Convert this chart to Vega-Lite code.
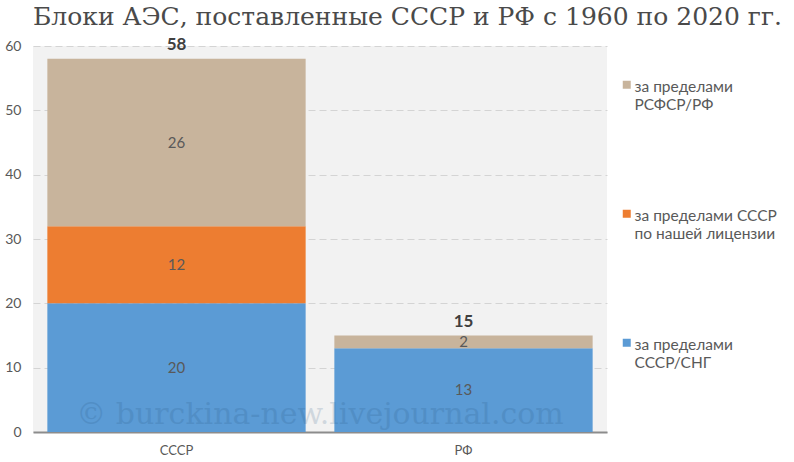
{
  "$schema": "https://vega.github.io/schema/vega-lite/v6.json",
  "autosize": "none",
  "width": 574,
  "height": 386,
  "padding": {"left": 33, "top": 46, "right": 187, "bottom": 30},
  "background": "white",
  "title": {
    "text": "Блоки АЭС, поставленные СССР и РФ с 1960 по 2020 гг.",
    "anchor": "start",
    "frame": "group",
    "font": "DejaVu Serif",
    "fontSize": 25,
    "fontWeight": "normal",
    "color": "#4a4a4a",
    "offset": 6
  },
  "config": {
    "view": {"fill": "#f2f2f2", "stroke": null},
    "font": "Lato"
  },
  "data": {
    "values": [
      {"country": "СССР", "category": "sng", "rank": 1, "value": 20},
      {"country": "СССР", "category": "lic", "rank": 2, "value": 12},
      {"country": "СССР", "category": "rf", "rank": 3, "value": 26},
      {"country": "РФ", "category": "sng", "rank": 1, "value": 13},
      {"country": "РФ", "category": "rf", "rank": 3, "value": 2}
    ]
  },
  "encoding": {
    "x": {
      "field": "country",
      "type": "nominal",
      "sort": ["СССР", "РФ"],
      "title": null,
      "scale": {"paddingInner": 0.1, "paddingOuter": 0.05},
      "axis": {
        "labelAngle": 0,
        "labelFontSize": 13,
        "labelColor": "#595959",
        "labelPadding": 12,
        "ticks": false,
        "domainColor": "#8c8c8c",
        "domainWidth": 2
      }
    }
  },
  "layer": [
    {
      "mark": {"type": "bar"},
      "encoding": {
        "y": {
          "field": "value",
          "type": "quantitative",
          "stack": "zero",
          "title": null,
          "scale": {"domain": [0, 60]},
          "axis": {
            "values": [0, 10, 20, 30, 40, 50, 60],
            "domain": false,
            "ticks": false,
            "labelFontSize": 14,
            "labelColor": "#595959",
            "labelPadding": 12,
            "gridDash": [7, 4],
            "gridColor": "#d4d4d4"
          }
        },
        "color": {
          "field": "category",
          "type": "nominal",
          "scale": {
            "domain": ["rf", "lic", "sng"],
            "range": ["#c8b49c", "#ed7d31", "#5b9bd5"]
          },
          "legend": {
            "title": null,
            "orient": "none",
            "legendX": 586,
            "legendY": 31,
            "symbolType": "square",
            "symbolSize": 64,
            "symbolStrokeWidth": 0,
            "labelFontSize": 15.5,
            "labelColor": "#595959",
            "labelBaseline": "top",
            "labelLimit": 300,
            "labelOffset": 0,
            "rowPadding": 92,
            "labelExpr": "datum.label == 'rf' ? ['за пределами', 'РСФСР/РФ'] : datum.label == 'lic' ? ['за пределами СССР', 'по нашей  лицензии'] : ['за пределами', 'СССР/СНГ']",
            "encode": {"labels": {"update": {"lineHeight": {"value": 18}, "dy": {"value": -5}}}}
          }
        },
        "order": {"field": "rank", "type": "quantitative", "sort": "ascending"}
      }
    },
    {
      "mark": {"type": "text", "fontSize": 15, "color": "#595959"},
      "encoding": {
        "y": {"field": "value", "type": "quantitative", "stack": "zero", "bandPosition": 0.5},
        "detail": {"field": "category"},
        "order": {"field": "rank", "type": "quantitative", "sort": "ascending"},
        "text": {"field": "value", "type": "quantitative"}
      }
    },
    {
      "transform": [
        {"aggregate": [{"op": "sum", "field": "value", "as": "total"}], "groupby": ["country"]}
      ],
      "mark": {"type": "text", "fontSize": 17, "fontWeight": "bold", "color": "#404040", "baseline": "bottom", "dy": -5},
      "encoding": {
        "y": {"field": "total", "type": "quantitative"},
        "text": {"field": "total", "type": "quantitative"}
      }
    },
    {
      "data": {"values": [{"note": "© burckina-new.livejournal.com", "pos": 2.6}]},
      "mark": {"type": "text", "font": "DejaVu Serif", "fontSize": 30, "color": "#1f4e79", "opacity": 0.16, "baseline": "middle"},
      "encoding": {
        "x": null,
        "y": {"field": "pos", "type": "quantitative"},
        "text": {"field": "note"}
      }
    }
  ]
}
